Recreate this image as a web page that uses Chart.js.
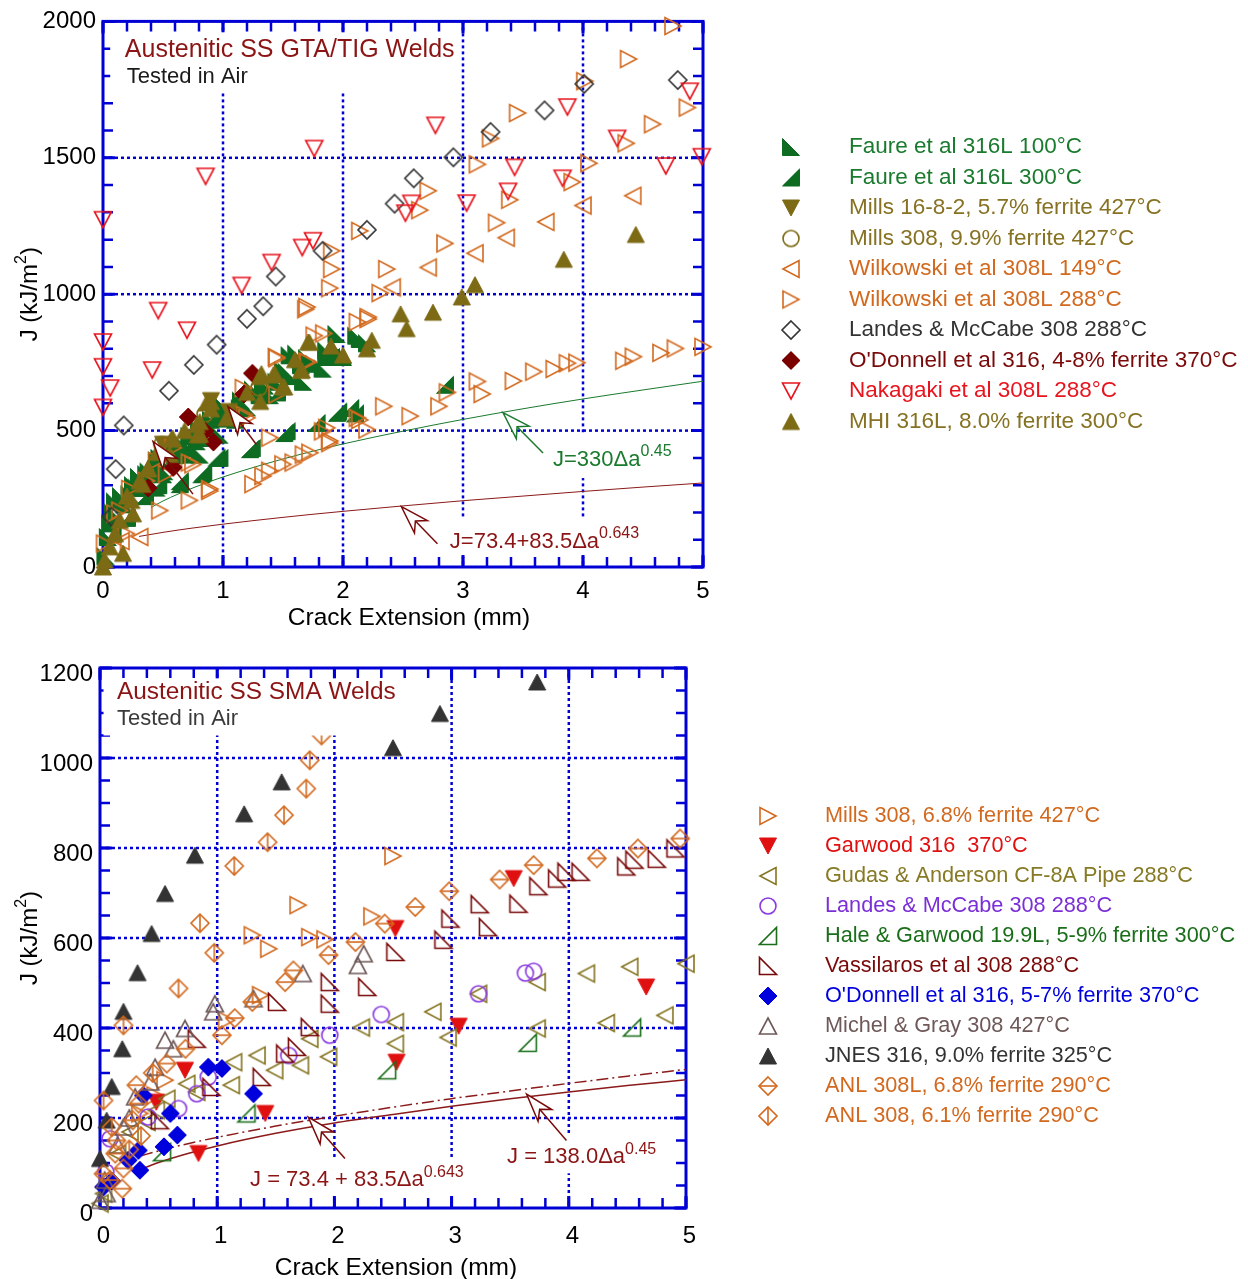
<!DOCTYPE html>
<html lang="en">
<head>
<meta charset="UTF-8">
<title>J-R data, austenitic SS welds</title>
<script src="https://cdn.jsdelivr.net/npm/chart.js@4.4.1/dist/chart.umd.min.js"></script>
<style>
  body { margin: 0; background: #fff; }
  canvas { position: absolute; left: 0; }
  #c1 { top: 0; }
  #c2 { top: 640px; }
</style>
</head>
<body>
<canvas id="c1" width="1248" height="645"></canvas>
<canvas id="c2" width="1248" height="639"></canvas>
<script>
const FONT = "'Liberation Sans', Arimo, Arial, sans-serif";
const BLUE = '#0000d4';
Chart.defaults.font.family = FONT;

// ---------- GTA/TIG welds: [crack extension mm, J kJ/m2]
const faure100 = [[0.02,40],[0.04,110],[0.06,160],[0.08,200],[0.1,240],[0.12,180],[0.15,260],[0.18,230],[0.22,267],[0.25,300],[0.28,291],[0.3,330],[0.33,290],[0.36,340],[0.38,350],[0.445,291],[0.45,390],[0.47,400],[0.51,351],[0.5,340],[0.55,440],[0.58,424],[0.6,410],[0.64,461],[0.67,436],[0.69,412],[0.72,480],[0.72,436],[0.78,461],[0.8,505],[0.805,412],[0.86,473],[0.86,509],[0.9,540],[0.97,545],[0.97,485],[1.0,590],[1.03,545],[1.05,560],[1.11,563],[1.14,582],[1.15,610],[1.2,585],[1.25,650],[1.305,630],[1.333,667],[1.35,665],[1.39,630],[1.445,679],[1.5,720],[1.53,715],[1.555,776],[1.55,700],[1.61,782],[1.64,763],[1.65,740],[1.667,679],[1.7,765],[1.76,745],[1.83,727],[1.86,770],[1.86,794],[1.945,854],[1.95,800],[2.0,770],[2.0,776],[2.11,848],[2.14,836],[2.2,820]];
const faure300 = [[0.08,120],[0.2,180],[0.35,260],[0.46,300],[0.55,420],[0.64,304],[0.64,315],[0.82,340],[0.835,347],[0.946,401],[0.97,400],[1.1,540],[1.225,432],[1.24,436],[1.45,640],[1.51,491],[1.53,498],[1.78,528],[1.9,770],[1.95,565],[1.96,570],[2.06,583],[2.1,563],[2.85,668]];
const mills1682 = [[0.5,450],[0.9,610],[1.05,570]];
const mills308a = [[0.49,449],[0.85,560],[1.3,657]];
const wilk149 = [[0.08,70],[0.15,95],[0.306,110],[2.41,1025],[2.71,1098],[3.1,1150],[3.36,1207],[3.69,1265],[4.0,1325],[4.415,1361]];
const wilk288 = [[4.75,1983],[4.38,1862],[4.015,1781],[3.455,1664],[3.23,1571],[4.58,1623],[4.87,1684],[4.36,1553],[4.05,1480],[3.12,1476],[2.71,1379],[2.64,1308],[3.39,1346],[3.91,1411],[3.28,1262],[2.85,1186],[1.906,1159],[1.906,1092],[1.89,1022],[2.365,1092],[2.14,1232],[2.31,1004],[1.69,945],[1.70,953],[2.21,909],[2.21,916],[2.12,898],[1.76,848],[1.84,856],[1.445,770],[1.45,765],[1.70,753],[1.71,751],[1.17,656],[1.45,632],[1.18,558],[2.34,589],[2.12,547],[2.14,539],[2.2,504],[1.865,510],[1.83,497],[1.89,462],[1.89,454],[1.39,474],[1.2,547],[1.725,419],[1.67,412],[1.585,383],[1.5,376],[1.39,353],[1.333,333],[1.25,304],[0.89,286],[0.89,279],[0.75,376],[0.72,244],[0.473,207],[0.72,383],[0.585,437],[0.446,389],[0.53,341],[0.362,316],[0.223,286],[0.14,207],[0.1,196],[0.195,122],[0.013,86],
  [5.0,807],[4.77,801],[4.65,785],[4.42,771],[4.34,756],[3.95,749],[3.87,747],[3.76,726],[3.59,716],[3.42,682],[3.12,680],[3.16,634],[2.87,640],[2.8,589],[2.56,553]];
const landes1 = [[0.07,185],[0.106,359],[0.173,519],[0.55,646],[0.757,741],[0.947,815],[1.2,910],[1.335,956],[1.44,1065],[1.83,1159],[2.2,1236],[2.43,1332],[2.59,1425],[2.92,1502],[3.23,1595],[3.68,1674],[4.01,1771],[4.79,1785]];
const odonnell1 = [[0.376,290],[0.585,365],[0.71,550],[0.85,498],[0.92,458],[1.175,634],[1.245,710]];
const nakagaki = [[0,1273],[0,825],[0,734],[0.06,656],[0,585],[0.41,722],[0.46,940],[0.7,868],[0.855,1432],[1.155,1032],[1.405,1116],[1.66,1171],[1.75,1196],[1.76,1534],[2.52,1297],[2.57,1333],[2.77,1619],[3.03,1334],[3.376,1377],[3.43,1465],[3.83,1425],[3.87,1686],[4.285,1571],[4.69,1470],[4.89,1744],[4.99,1504]];
const mhi = [[0,0],[0.014,25],[0.056,74],[0.167,50],[0.1,122],[0.14,171],[0.25,195],[0.2,260],[0.237,244],[0.306,316],[0.33,303],[0.376,359],[0.375,363],[0.45,420],[0.557,413],[0.57,468],[0.58,473],[0.68,500],[0.78,522],[0.79,485],[0.806,533],[0.807,486],[0.863,601],[0.9,606],[0.9,580],[1.03,547],[1.2,640],[1.31,607],[1.31,698],[1.32,709],[1.42,704],[1.43,709],[1.5,662],[1.51,660],[1.6,760],[1.65,721],[1.656,722],[1.71,825],[1.72,824],[1.9,810],[2.0,777],[2.2,800],[2.24,831],[2.48,928],[2.53,874],[2.75,934],[2.99,990],[3.1,1035],[3.84,1128],[4.44,1219]];
const fitX1 = [0.4,0.5,0.75,1,1.5,2,2.5,3,3.5,4,4.5,5];
const fit330 = [218,242,290,330,396,451,498,541,580,616,649,681];
const fitX1r = [0.3,0.5,0.75,1,1.5,2,2.5,3,3.5,4,4.5,5];
const fit73a = [112,127,143,157,182,204,224,243,260,277,293,308];

// ---------- SMA welds
const mills308b = [[0.34,210],[0.47,250],[0.555,284],[1.08,417],[1.37,473],[1.44,576],[1.3,606],[1.69,673],[1.79,602],[1.92,597],[2.32,648],[2.5,782]];
const garwood = [[0.48,235],[0.725,306],[0.84,121],[1.41,210],[2.52,621],[2.53,324],[3.06,404],[3.53,732],[4.66,491]];
const gudas = [[0,10],[0.03,32],[0.15,120],[0.256,169],[0.4,191],[0.48,217],[0.57,243],[0.74,276],[0.825,258],[1.12,273],[1.14,324],[1.34,339],[1.49,306],[1.71,317],[1.79,376],[1.95,336],[2.23,401],[2.52,413],[2.52,365],[2.84,436],[2.97,379],[3.23,476],[3.73,502],[3.73,399],[4.15,521],[4.32,411],[4.52,536],[4.82,428],[5.0,543]];
const landes2 = [[0.05,80],[0.085,154],[0.41,202],[0.67,221],[0.825,254],[0.924,291],[1.61,339],[1.96,384],[2.40,430],[3.23,476],[3.63,522],[3.70,526]];
const hale = [[0.53,124],[1.25,210],[2.45,306],[3.65,367],[4.54,401]];
const vass = [[0.51,195],[0.825,376],[0.95,269],[1.38,291],[1.58,343],[1.68,358],[1.79,402],[1.51,458],[1.96,454],[1.96,502],[2.28,491],[2.52,569],[2.93,596],[2.99,643],[3.24,675],[3.31,624],[3.57,676],[3.74,715],[3.90,732],[3.98,747],[4.10,747],[4.49,759],[4.56,774],[4.75,776],[4.91,799]];
const odonnell2 = [[0.03,47],[0.1,60],[0.34,84],[0.24,106],[0.327,128],[0.546,136],[0.66,162],[0.6,210],[0.37,250],[0.924,313],[1.04,310],[1.31,254]];
const michel = [[0,17],[0.057,32],[0.04,62],[0.15,140],[0.2,180],[0.25,200],[0.3,247],[0.43,280],[0.47,313],[0.626,354],[0.555,373],[0.725,399],[0.966,436],[0.98,454],[1.31,465],[1.73,521],[2.20,539],[2.25,565]];
const jnes = [[0,110],[0.057,195],[0.1,270],[0.19,354],[0.2,437],[0.32,523],[0.44,610],[0.555,699],[0.81,784],[1.23,876],[1.55,947],[2.5,1023],[2.90,1099],[3.73,1169]];
const anl308L = [[0.03,76],[0.085,62],[0.19,43],[0.2,88],[0.13,121],[0.14,150],[0.28,195],[0.33,232],[0.31,273],[0.57,321],[0.73,354],[1.04,384],[1.15,422],[1.30,458],[1.58,502],[1.65,528],[1.95,562],[2.18,591],[2.43,632],[2.69,669],[2.98,704],[3.41,730],[3.70,762],[4.24,777],[4.59,799],[4.95,821]];
const anl308 = [[0.03,239],[0.1,180],[0.25,130],[0.35,160],[0.45,300],[0.2,406],[0.67,488],[0.975,567],[0.853,633],[1.146,760],[1.43,813],[1.57,873],[1.76,932],[1.79,995],[1.89,1050]];
const fitX2 = [0.35,0.5,0.75,1,1.5,2,2.5,3,3.5,4,4.5,5];
const fit138 = [86,101,121,138,166,189,208,226,243,258,272,285];
const fit73b = [116,127,143,157,182,204,224,243,260,277,293,308];

const xTicks = [0,1,2,3,4,5];

// ---------- marker images
function sym(shape, color, filled) {
  const w = 24;
  const c = document.createElement('canvas');
  c.width = w; c.height = w;
  const g = c.getContext('2d');
  g.translate(w / 2, w / 2);
  const h = 8.5, t = 8;
  g.lineWidth = 1.6; g.strokeStyle = color; g.fillStyle = color;
  g.beginPath();
  if (shape === 'up') { g.moveTo(0, -t); g.lineTo(h, t); g.lineTo(-h, t); }
  else if (shape === 'down') { g.moveTo(0, t); g.lineTo(h, -t); g.lineTo(-h, -t); }
  else if (shape === 'left') { g.moveTo(-t, 0); g.lineTo(t, -h); g.lineTo(t, h); }
  else if (shape === 'right') { g.moveTo(t, 0); g.lineTo(-t, -h); g.lineTo(-t, h); }
  else if (shape.startsWith('diamond')) { g.moveTo(0, -9); g.lineTo(9, 0); g.lineTo(0, 9); g.lineTo(-9, 0); }
  else if (shape === 'circle') { g.arc(0, 0, 8, 0, Math.PI * 2); }
  else if (shape === 'rtBL') { g.moveTo(-h, -h); g.lineTo(-h, h); g.lineTo(h, h); }
  else if (shape === 'rtBR') { g.moveTo(h, -h); g.lineTo(h, h); g.lineTo(-h, h); }
  g.closePath();
  if (filled) { g.fill(); g.lineWidth = 1; }
  g.stroke();
  g.lineWidth = 1.6;
  if (shape === 'diamondH') { g.beginPath(); g.moveTo(-9, 0); g.lineTo(9, 0); g.stroke(); }
  if (shape === 'diamondV') { g.beginPath(); g.moveTo(0, -9); g.lineTo(0, 9); g.stroke(); }
  return c;
}

const pts = a => a.map(p => ({ x: p[0], y: p[1] }));
const curve = (xs, ys) => xs.map((x, i) => ({ x: x, y: ys[i] }));

function series(list) {
  return list.map((d, i) => ({
    label: d[0], data: pts(d[1]), pointStyle: sym(d[2], d[3], d[4]), textColor: d[5],
    pointRadius: 9, showLine: false, clip: false, order: -i
  }));
}
function fitLine(data, color, width, dash) {
  return { label: '', data: data, showLine: true, pointRadius: 0, borderColor: color,
    borderWidth: width, borderDash: dash || [], cubicInterpolationMode: 'monotone', clip: false, order: 50, noLegend: true };
}

// ---------- drawing helpers
function supText(ctx, x, y, base, sup, size, color) {
  ctx.fillStyle = color;
  ctx.textBaseline = 'middle'; ctx.textAlign = 'left';
  ctx.font = size + 'px ' + FONT;
  ctx.fillText(base, x, y);
  const w = ctx.measureText(base).width;
  ctx.font = Math.round(size * 0.72) + 'px ' + FONT;
  ctx.fillText(sup, x + w, y - size * 0.36);
  return w + ctx.measureText(sup).width;
}
function arrow(ctx, x1, y1, x2, y2, color) {
  const dx = x2 - x1, dy = y2 - y1, L = Math.hypot(dx, dy), ux = dx / L, uy = dy / L, nx = -uy, ny = ux;
  const hl = 28, hw = 9, nt = 20;
  ctx.strokeStyle = color; ctx.lineWidth = 1.5;
  ctx.beginPath(); ctx.moveTo(x1, y1); ctx.lineTo(x2 - ux * nt, y2 - uy * nt); ctx.stroke();
  ctx.beginPath();
  ctx.moveTo(x2, y2);
  ctx.lineTo(x2 - ux * hl + nx * hw, y2 - uy * hl + ny * hw);
  ctx.lineTo(x2 - ux * nt, y2 - uy * nt);
  ctx.lineTo(x2 - ux * hl - nx * hw, y2 - uy * hl - ny * hw);
  ctx.closePath();
  ctx.fillStyle = '#fff'; ctx.fill(); ctx.stroke();
}

function panel(p) {
  return {
    id: 'panel',
    beforeDatasetsDraw(chart) {
      const { ctx, chartArea: a, scales: { x, y } } = chart;
      ctx.save();
      // dotted grid
      ctx.strokeStyle = BLUE; ctx.lineWidth = 2.5; ctx.setLineDash([3, 3]);
      p.xGrid.forEach(v => { const X = x.getPixelForValue(v); ctx.beginPath(); ctx.moveTo(X, a.top); ctx.lineTo(X, a.bottom); ctx.stroke(); });
      p.yGrid.forEach(v => { const Y = y.getPixelForValue(v); ctx.beginPath(); ctx.moveTo(a.left, Y); ctx.lineTo(a.right, Y); ctx.stroke(); });
      ctx.setLineDash([]);
      // blank space behind the fit labels
      ctx.fillStyle = '#fff';
      p.gaps.forEach(g => {
        const x0 = x.getPixelForValue(g[0]), x1 = x.getPixelForValue(g[1]);
        const y0 = y.getPixelForValue(g[2]), y1 = y.getPixelForValue(g[3]);
        ctx.fillRect(x0, y0, x1 - x0, y1 - y0);
      });
      // inward ticks
      ctx.strokeStyle = BLUE;
      const tick = (vals, len, lw) => {
        ctx.lineWidth = lw;
        vals.forEach(v => {
          const X = x.getPixelForValue(v);
          ctx.beginPath(); ctx.moveTo(X, a.bottom); ctx.lineTo(X, a.bottom - len); ctx.moveTo(X, a.top); ctx.lineTo(X, a.top + len); ctx.stroke();
        });
      };
      const ytick = (vals, len, lw) => {
        ctx.lineWidth = lw;
        vals.forEach(v => {
          const Y = y.getPixelForValue(v);
          ctx.beginPath(); ctx.moveTo(a.left, Y); ctx.lineTo(a.left + len, Y); ctx.moveTo(a.right, Y); ctx.lineTo(a.right - len, Y); ctx.stroke();
        });
      };
      const steps = (max, st) => { const r = []; for (let i = 0; i * st <= max + 1e-9; i++) r.push(+(i * st).toFixed(3)); return r; };
      tick(steps(5, 0.2), 10, 2.5);
      tick(xTicks, 12, 3);
      ytick(steps(p.yMax, p.yMinor), 10, 2.5);
      ytick(steps(p.yMax, p.yMajor), 12, 3);
      ctx.lineWidth = 3;
      ctx.strokeRect(a.left, a.top, a.right - a.left, a.bottom - a.top);
      // fit equations
      p.eqs.forEach(e => supText(ctx, x.getPixelForValue(e[0]), y.getPixelForValue(e[1]), e[2], e[3], 22, e[4]));
      ctx.restore();
    },
    afterDatasetsDraw(chart) {
      const { ctx, chartArea: a, scales: { x, y } } = chart;
      ctx.save();
      p.arrows.forEach(r => arrow(ctx, x.getPixelForValue(r[0]), y.getPixelForValue(r[1]), x.getPixelForValue(r[2]), y.getPixelForValue(r[3]), r[4]));
      // title block
      const b = p.titleBox;
      const bx0 = x.getPixelForValue(b[0]), bx1 = x.getPixelForValue(b[1]);
      const by0 = y.getPixelForValue(b[2]), by1 = y.getPixelForValue(b[3]);
      ctx.fillStyle = '#fff'; ctx.fillRect(bx0, by0, bx1 - bx0, by1 - by0);
      ctx.textAlign = 'left'; ctx.textBaseline = 'middle';
      ctx.font = p.titleSize + 'px ' + FONT; ctx.fillStyle = '#8b1414';
      ctx.fillText(p.title[0], x.getPixelForValue(p.title[1]), y.getPixelForValue(p.title[2]));
      ctx.font = '22px ' + FONT; ctx.fillStyle = p.sub[3];
      ctx.fillText(p.sub[0], x.getPixelForValue(p.sub[1]), y.getPixelForValue(p.sub[2]));
      // axis titles
      ctx.fillStyle = '#000'; ctx.font = '24.5px ' + FONT; ctx.textAlign = 'center';
      ctx.fillText('Crack Extension (mm)', (a.left + a.right) / 2 + p.xTitleDx, a.bottom + p.xTitleOff);
      ctx.translate(30, (a.top + a.bottom) / 2);
      ctx.rotate(-Math.PI / 2);
      ctx.font = '24px ' + FONT;
      const w1 = ctx.measureText('J (kJ/m').width;
      ctx.font = '16px ' + FONT; const w2 = ctx.measureText('2').width;
      ctx.font = '24px ' + FONT; const w3 = ctx.measureText(')').width;
      let sx = -(w1 + w2 + w3) / 2;
      ctx.textAlign = 'left';
      ctx.fillText('J (kJ/m', sx, 0);
      ctx.font = '16px ' + FONT; ctx.fillText('2', sx + w1, -8);
      ctx.font = '24px ' + FONT; ctx.fillText(')', sx + w1 + w2, 0);
      ctx.restore();
      // legend
      ctx.save();
      ctx.font = p.legFont + 'px ' + FONT; ctx.textAlign = 'left'; ctx.textBaseline = 'middle';
      chart.data.datasets.filter(d => !d.noLegend).forEach((d, i) => {
        const cy = p.legY + i * p.legStep, im = d.pointStyle;
        ctx.drawImage(im, p.legSymX - im.width / 2, cy - im.height / 2);
        ctx.fillStyle = d.textColor;
        ctx.fillText(d.label, p.legTextX, cy);
      });
      ctx.restore();
    }
  };
}

function makeChart(id, datasets, yMax, yStep, pad, yW, xH, xPad, xOff, yOff, p) {
  return new Chart(document.getElementById(id), {
    type: 'scatter',
    data: { datasets: datasets },
    options: {
      responsive: false, animation: false, events: [],
      layout: { padding: pad },
      plugins: { legend: { display: false }, tooltip: { enabled: false } },
      scales: {
        x: { type: 'linear', min: 0, max: 5,
          ticks: { stepSize: 1, color: '#000', font: { size: 24 }, padding: xPad, labelOffset: xOff, maxRotation: 0, callback: v => String(v) },
          grid: { display: false, drawTicks: false }, border: { display: false },
          afterFit: s => { s.height = xH; } },
        y: { type: 'linear', min: 0, max: yMax,
          ticks: { stepSize: yStep, color: '#000', font: { size: 24 }, padding: 7, labelOffset: yOff, callback: v => String(v) },
          grid: { display: false, drawTicks: false }, border: { display: false },
          afterFit: s => { s.width = yW; } }
      }
    },
    plugins: [panel(p)]
  });
}

const GREEN = '#0e6b22', OLIVE = '#7d6a14', ORANGE = '#d2691e', DKRED = '#7a0a0a';

const topSets = series([
  ['Faure et al 316L 100°C', faure100, 'rtBL', GREEN, true, '#1a7a2e'],
  ['Faure et al 316L 300°C', faure300, 'rtBR', GREEN, true, '#1a7a2e'],
  ['Mills 16-8-2, 5.7% ferrite 427°C', mills1682, 'down', OLIVE, true, '#867222'],
  ['Mills 308, 9.9% ferrite 427°C', mills308a, 'circle', OLIVE, false, '#867222'],
  ['Wilkowski et al 308L 149°C', wilk149, 'left', ORANGE, false, ORANGE],
  ['Wilkowski et al 308L 288°C', wilk288, 'right', ORANGE, false, ORANGE],
  ['Landes & McCabe 308 288°C', landes1, 'diamond', '#333333', false, '#333333'],
  ["O'Donnell et al 316, 4-8% ferrite 370°C", odonnell1, 'diamond', '#7a0000', true, DKRED],
  ['Nakagaki et al 308L 288°C', nakagaki, 'down', '#e8141e', false, '#e8141e'],
  ['MHI 316L, 8.0% ferrite 300°C', mhi, 'up', OLIVE, true, '#867222']
]).concat([
  fitLine(curve(fitX1, fit330), '#1a7a2e', 1),
  fitLine(curve(fitX1r, fit73a), '#8b1a1a', 1)
]);

makeChart('c1', topSets, 2000, 500, { left: 0, right: 545, top: 16, bottom: 0 }, 103, 78, 10, 0, 0, {
  xGrid: [1, 2, 3, 4], yGrid: [500, 1000, 1500], yMax: 2000, yMajor: 500, yMinor: 100,
  gaps: [[3.72, 4.78, 493, 326], [2.86, 4.52, 177, 39]],
  eqs: [[3.75, 394, 'J=330\u0394a', '0.45', '#1a7a2e'], [2.89, 93, 'J=73.4+83.5\u0394a', '0.643', '#8b1414']],
  arrows: [[3.667, 418, 3.333, 566, '#1a7a2e'], [2.787, 85, 2.487, 221, '#7a0a0a'],
           [0.75, 267, 0.417, 460, '#7a0a0a'], [1.278, 449, 1.042, 588, '#7a0a0a']],
  titleBox: [0.06, 2.97, 1960, 1737],
  title: ['Austenitic SS GTA/TIG Welds', 0.182, 1893], titleSize: 25,
  sub: ['Tested in Air', 0.198, 1795, '#1a1a1a'],
  xTitleOff: 51, xTitleDx: 6,
  legY: 147, legStep: 30.5, legSymX: 791, legTextX: 849, legFont: 22.5
});

const botSets = series([
  ['Mills 308, 6.8% ferrite 427°C', mills308b, 'right', ORANGE, false, ORANGE],
  ['Garwood 316  370°C', garwood, 'down', '#e01010', true, '#e01010'],
  ['Gudas & Anderson CF-8A Pipe 288°C', gudas, 'left', '#857522', false, '#867a25'],
  ['Landes & McCabe 308 288°C', landes2, 'circle', '#8a3ae0', false, '#7b2fd6'],
  ['Hale & Garwood 19.9L, 5-9% ferrite 300°C', hale, 'rtBR', '#1a6e1a', false, '#1a6e1a'],
  ['Vassilaros et al 308 288°C', vass, 'rtBL', DKRED, false, DKRED],
  ["O'Donnell et al 316, 5-7% ferrite 370°C", odonnell2, 'diamond', '#0000dd', true, '#0000dd'],
  ['Michel & Gray 308 427°C', michel, 'up', '#6e5858', false, '#6e5858'],
  ['JNES 316, 9.0% ferrite 325°C', jnes, 'up', '#333333', true, '#333333'],
  ['ANL 308L, 6.8% ferrite 290°C', anl308L, 'diamondH', ORANGE, false, ORANGE],
  ['ANL 308, 6.1% ferrite 290°C', anl308, 'diamondV', ORANGE, false, ORANGE]
]).concat([
  fitLine(curve(fitX2, fit138), '#8b1a1a', 1.5),
  fitLine(curve(fitX2, fit73b), '#8b1a1a', 1.5, [12, 4, 2, 4])
]);

makeChart('c2', botSets, 1200, 200, { left: 0, right: 562, top: 28, bottom: 0 }, 100, 71, 14, 3.5, 6.5, {
  xGrid: [1, 2, 3, 4], yGrid: [200, 400, 600, 800, 1000], yMax: 1200, yMajor: 200, yMinor: 50,
  gaps: [[1.24, 3.11, 112, 22], [3.44, 4.78, 166, 77]],
  eqs: [[1.28, 62, 'J = 73.4 + 83.5\u0394a', '0.643', '#8b1414'], [3.473, 113, 'J = 138.0\u0394a', '0.45', '#8b1414']],
  arrows: [[2.09, 110, 1.777, 202, '#7a0a0a'], [3.98, 150, 3.64, 253, '#7a0a0a']],
  titleBox: [0.03, 2.05, 1177, 1050],
  title: ['Austenitic SS SMA Welds', 0.145, 1146], titleSize: 24.4,
  sub: ['Tested in Air', 0.145, 1086, '#3a3a3a'],
  xTitleOff: 60, xTitleDx: 3,
  legY: 176, legStep: 30, legSymX: 768, legTextX: 825, legFont: 21.7
});
</script>
</body>
</html>
